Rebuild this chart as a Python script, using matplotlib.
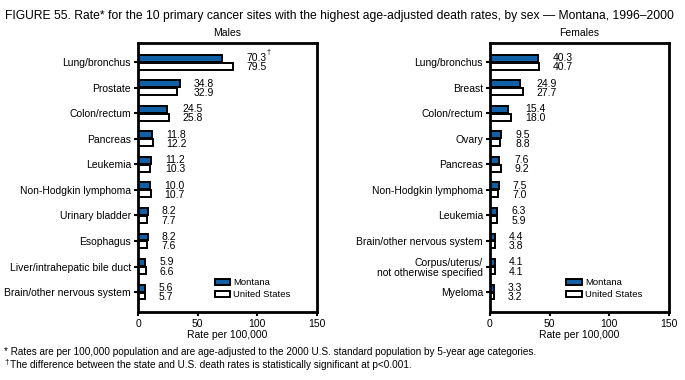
import matplotlib.pyplot as plt
import numpy as np

plt.rcParams['font.family'] = ['Liberation Sans', 'DejaVu Sans']

# Data
male_sites = ["Lung/bronchus", "Prostate", "Colon/rectum", "Pancreas", "Leukemia",
              "Non-Hodgkin lymphoma", "Urinary bladder", "Esophagus",
              "Liver/intrahepatic bile duct", "Brain/other nervous system"]
male_montana = [70.3, 34.8, 24.5, 11.8, 11.2, 10.0, 8.2, 8.2, 5.9, 5.6]
male_us = [79.5, 32.9, 25.8, 12.2, 10.3, 10.7, 7.7, 7.6, 6.6, 5.7]
male_signif = [True, False, False, False, False, False, False, False, False, False]

female_sites = ["Lung/bronchus", "Breast", "Colon/rectum", "Ovary", "Pancreas",
                "Non-Hodgkin lymphoma", "Leukemia", "Brain/other nervous system",
                "Corpus/uterus/\nnot otherwise specified", "Myeloma"]
female_montana = [40.3, 24.9, 15.4, 9.5, 7.6, 7.5, 6.3, 4.4, 4.1, 3.3]
female_us = [40.7, 27.7, 18.0, 8.8, 9.2, 7.0, 5.9, 3.8, 4.1, 3.2]
female_signif = [False] * 10

blue = '#1060a6'
fs = 7.5

fig = plt.figure(figsize=(6.85, 3.8), dpi=100)
fig.text(0.008, 0.975, "FIGURE 55. Rate* for the 10 primary cancer sites with the highest "
         "age-adjusted death rates, by sex \u2014 Montana, 1996\u20132000",
         fontsize=8.7, ha='left', va='top')


def draw_panel(rect, title, sites, montana, us, signif):
    ax = fig.add_axes(rect)
    y = np.arange(len(sites))
    h = 0.27
    ax.barh(y - 0.155, montana, height=h, color=blue, edgecolor='black', linewidth=1.4,
            label='Montana')
    ax.barh(y + 0.155, us, height=h, color='white', edgecolor='black', linewidth=1.4,
            label='United States')
    for yi, m, u, s in zip(y, montana, us, signif):
        xm = max(m, u)
        ax.annotate(f"{m:.1f}", xy=(xm, yi - 0.16), xytext=(10, 0),
                    textcoords='offset points', ha='left', va='center', fontsize=fs)
        ax.annotate(f"{u:.1f}", xy=(xm, yi + 0.2), xytext=(10, 0),
                    textcoords='offset points', ha='left', va='center', fontsize=fs)
        if s:
            ax.annotate("\u2020", xy=(xm, yi - 0.16), xytext=(24, 1.5),
                        textcoords='offset points', ha='left', va='bottom', fontsize=5)
    ax.set_xlim(0, 150)
    ax.set_ylim(9.78, -0.75)
    ax.set_xticks([0, 50, 100, 150])
    ax.set_yticks(y)
    ax.set_yticklabels(sites, fontsize=fs, linespacing=1.1)
    ax.tick_params(axis='x', labelsize=fs, length=3, width=1.5, pad=2)
    ax.tick_params(axis='y', length=3, width=1.5, pad=2)
    for sp in ax.spines.values():
        sp.set_linewidth(2)
    ax.set_xlabel("Rate per 100,000", fontsize=fs, labelpad=1)
    ax.set_title(title, fontsize=fs, pad=5)
    ax.legend(loc='lower left', bbox_to_anchor=(0.38, 0.015), frameon=False, fontsize=6.8,
              handlelength=1.6, handleheight=0.6, handletextpad=0.4, labelspacing=0.35)
    return ax


draw_panel([0.2015, 0.179, 0.2613, 0.708], "Males",
           male_sites, male_montana, male_us, male_signif)
draw_panel([0.7153, 0.179, 0.2613, 0.708], "Females",
           female_sites, female_montana, female_us, female_signif)

fig.text(0.006, 0.073, "* Rates are per 100,000 population and are age-adjusted to the 2000 "
         "U.S. standard population by 5-year age categories.", fontsize=7.2, ha='left', va='center')
fig.text(0.006, 0.045, "\u2020", fontsize=6, ha='left', va='center')
fig.text(0.014, 0.040, "The difference between the state and U.S. death rates is statistically "
         "significant at p<0.001.", fontsize=7.2, ha='left', va='center')

fig.savefig("out.png", dpi=100)
